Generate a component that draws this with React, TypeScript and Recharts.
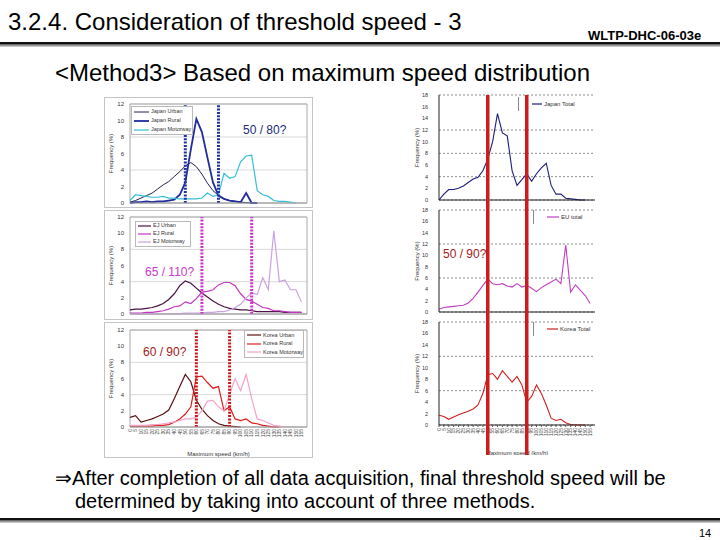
import React from 'react';
import { LineChart, Line, XAxis, YAxis, CartesianGrid, ReferenceLine, ReferenceArea, Legend } from 'recharts';

const FONT = "'Liberation Sans', Arial, sans-serif";

// Maximum speed bins (km/h)
const SPEEDS = [0, 5, 10, 15, 20, 25, 30, 35, 40, 45, 50, 55, 60, 65, 70, 75, 80, 85, 90, 95, 100, 105, 110, 115, 120, 125, 130, 135, 140, 145, 150, 155];
const LEFT_Y_TICKS = [0, 2, 4, 6, 8, 10, 12];
const RIGHT_Y_TICKS = [0, 2, 4, 6, 8, 10, 12, 14, 16, 18];

// Japan (%)
const JAPAN_URBAN = [0.1, 0.3, 0.6, 0.9, 1.2, 1.7, 2.2, 2.6, 3.2, 3.8, 4.5, 4.9, 4.4, 3.5, 2.4, 1.5, 0.9, 0.5, 0.3, 0.2, 0.1, 0.05, 0, null, null, null, null, null, null, null, null, null];
const JAPAN_RURAL = [0, 0.1, 0.1, 0.2, 0.1, 0.2, 0.2, 0.3, 0.4, 1.0, 2.5, 6.5, 10.2, 8.6, 5.5, 2.5, 0.9, 0.5, 0.3, 0.2, 0.1, 1.2, 0, 0, null, null, null, null, null, null, null, null];
const JAPAN_MOTORWAY = [0.3, 1.0, 0.9, 0.8, 0.7, 0.7, 0.8, 0.6, 0.6, 0.5, 0.5, 0.5, 0.5, 0.6, 1.2, 0.8, 1.0, 3.6, 3.0, 3.2, 5.0, 5.7, 5.8, 1.5, 1.0, 0.8, 0.3, 0.2, 0.2, 0.1, 0, null];

// EJ (%)
const EJ_URBAN = [0.5, 0.6, 0.6, 0.7, 0.8, 1.0, 1.3, 1.8, 2.5, 3.5, 4.1, 3.8, 3.2, 2.6, 2.1, 1.6, 1.2, 0.9, 0.7, 0.6, 0.5, 0.5, 0.4, 0.3, 0.3, 0.3, 0.3, 0.3, 0.2, 0.2, 0.2, 0.2];
const EJ_RURAL = [0.1, 0.1, 0.1, 0.2, 0.2, 0.3, 0.4, 0.6, 0.9, 1.0, 1.5, 1.3, 1.9, 2.7, 2.8, 3.0, 3.6, 3.9, 3.9, 3.5, 2.5, 1.8, 1.6, 1.2, 0.8, 0.7, 0.4, 0.4, 0.3, 0.2, 0.2, 0.2];
const EJ_MOTORWAY = [0, 0, 0, 0, 0, 0, 0, 0.05, 0.05, 0.05, 0.1, 0.1, 0.1, 0.15, 0.2, 0.2, 0.3, 0.3, 0.5, 0.8, 1.2, 2.0, 2.6, 2.4, 4.5, 3.0, 10.3, 4.0, 4.2, 3.0, 3.0, 1.5];

// Korea (%)
const KOREA_URBAN = [1.2, 1.4, 0.6, 0.8, 1.0, 1.3, 1.6, 2.1, 3.5, 5.0, 6.5, 5.6, 3.3, 2.2, 1.4, 0.8, 0.4, 0.2, 0.1, 0.05, 0, null, null, null, null, null, null, null, null, null, null, null];
const KOREA_RURAL = [0.1, 0.1, 0.1, 0.1, 0.1, 0.2, 0.2, 0.3, 0.6, 1.0, 1.6, 2.5, 6.2, 6.3, 5.5, 4.8, 5.0, 2.0, 2.5, 1.0, 0.8, 1.0, 0.5, 0.4, 0.2, 0.1, 0, 0, null, null, null, null];
const KOREA_MOTORWAY = [0.2, 0.2, 0.2, 0.2, 0.3, 0.3, 0.4, 0.5, 0.6, 0.8, 1.0, 1.0, 1.2, 2.0, 3.2, 3.3, 2.5, 2.0, 4.0, 6.0, 4.5, 6.5, 3.5, 1.0, 0.8, 0.5, 0.2, 0.1, 0, null, null, null];

// Totals (%)
const JAPAN_TOTAL = [0, 1.0, 1.8, 1.8, 2.0, 2.4, 3.0, 3.6, 3.9, 5.0, 7.0, 10.0, 14.8, 11.5, 11.0, 5.0, 2.5, 3.5, 4.5, 3.2, 4.5, 5.5, 6.3, 2.5, 1.0, 1.0, 0.3, 0.2, 0.1, 0, 0, null];
const EU_TOTAL = [0.5, 0.8, 0.9, 1.0, 1.1, 1.2, 1.6, 2.4, 3.5, 4.7, 5.8, 5.0, 4.8, 5.0, 4.6, 4.4, 5.0, 4.4, 4.7, 4.2, 3.6, 4.3, 4.8, 5.3, 5.8, 5.0, 11.8, 3.5, 4.8, 3.8, 2.9, 1.5];
const KOREA_TOTAL = [1.7, 1.5, 1.0, 1.4, 1.8, 2.1, 2.4, 2.8, 3.5, 5.5, 8.8, 9.0, 8.0, 9.5, 8.5, 7.5, 8.5, 7.0, 4.0, 5.0, 7.0, 5.5, 3.5, 1.2, 0.8, 1.0, 0.4, 0.1, 0, 0, 0, null];

// Threshold candidates (km/h)
const JAPAN_THRESHOLDS = [50, 80];
const EJ_THRESHOLDS = [65, 110];
const KOREA_THRESHOLDS = [60, 90];
const TOTAL_THRESHOLDS = [50, 90];

type Series = { key: string; name: string; values: (number | null)[]; color: string; width: number };

function rowsOf(series: Series[]) {
  return SPEEDS.map((s, i) => {
    const r: any = { speed: s };
    series.forEach((se) => {
      r[se.key] = se.values[i];
    });
    return r;
  });
}

const RotTick = (props: any) => {
  const { x, y, payload } = props;
  return (
    <text x={x} y={y} dy="0.35em" transform={`rotate(-90 ${x} ${y})`} textAnchor="end" fontSize={5} fill="#444" fontFamily={FONT}>
      {payload.value}
    </text>
  );
};

const boxLegend = (series: Series[], lineLen: number, rowH: number, fontSize: number) => () => (
  <div style={{ border: '1px solid #b8b8b8', background: '#fff', padding: '0 2px', fontFamily: FONT }}>
    {series.map((s) => (
      <div key={s.key} style={{ display: 'flex', alignItems: 'center', height: rowH }}>
        <svg width={lineLen} height={4} style={{ flex: 'none' }}>
          <line x1={0} y1={2} x2={lineLen} y2={2} stroke={s.color} strokeWidth={s.width} />
        </svg>
        <span style={{ fontSize, marginLeft: 2, color: '#333', whiteSpace: 'nowrap', lineHeight: 1 }}>{s.name}</span>
      </div>
    ))}
  </div>
);

const barLegend = (s: Series, lineLen: number, fontSize: number) => () => (
  <div style={{ borderLeft: '1px solid #888', paddingLeft: 13, height: 14, display: 'flex', alignItems: 'center', fontFamily: FONT }}>
    <svg width={lineLen} height={4} style={{ flex: 'none' }}>
      <line x1={0} y1={2} x2={lineLen} y2={2} stroke={s.color} strokeWidth={1.2} />
    </svg>
    <span style={{ fontSize, marginLeft: 2, color: '#333', whiteSpace: 'nowrap', lineHeight: 1 }}>{s.name}</span>
  </div>
);

type LeftProps = {
  top: number;
  height: number;
  plotTop: number;
  axisH: number;
  series: Series[];
  thresholds: number[];
  thColor: string;
  legendPos: { left: number; top: number; width: number };
  legendLine: number;
  legendRow: number;
  bottomAxis?: boolean;
};

function LeftPanel(p: LeftProps) {
  const data = rowsOf(p.series);
  return (
    <div style={{ position: 'absolute', left: 104, top: p.top, width: 207, height: p.height, border: '1px solid #c4c4c4', background: '#fff' }}>
      <LineChart width={207} height={p.height} data={data} margin={{ top: p.plotTop, right: 5, left: 0, bottom: 0 }}>
        <CartesianGrid vertical={false} stroke="#d9d9d9" />
        <XAxis
          dataKey="speed"
          type="number"
          domain={[0, 160]}
          ticks={SPEEDS}
          height={p.axisH}
          axisLine={{ stroke: '#a8a8a8' }}
          tickLine={false}
          tickSize={2}
          tickMargin={0}
          interval={0}
          tick={p.bottomAxis ? <RotTick /> : false}
          label={p.bottomAxis ? { value: 'Maximum speed (km/h)', position: 'insideBottom', offset: 1, fontSize: 6, fill: '#333', fontFamily: FONT } : undefined}
        />
        <YAxis
          domain={[0, 12]}
          ticks={LEFT_Y_TICKS}
          width={25}
          tick={{ fontSize: 6, fill: '#333', fontFamily: FONT }}
          tickLine={false}
          axisLine={false}
          tickSize={3}
          tickMargin={3}
          label={{ value: 'Frequency (%)', angle: -90, position: 'insideLeft', offset: 6, fontSize: 6, fill: '#333', fontFamily: FONT, style: { textAnchor: 'middle' } }}
        />
        <ReferenceArea x1={0} x2={160} y1={0} y2={12} fill="none" stroke="#a8a8a8" strokeWidth={1} />
        {p.series.map((s) => (
          <Line key={s.key} dataKey={s.key} name={s.name} stroke={s.color} strokeWidth={s.width} dot={false} type="linear" isAnimationActive={false} />
        ))}
        {p.thresholds.map((t) => (
          <ReferenceLine key={t} x={t} stroke={p.thColor} strokeWidth={3} strokeDasharray="2 1.3" />
        ))}
        <Legend
          layout="vertical"
          align="center"
          verticalAlign="middle"
          wrapperStyle={{ left: p.legendPos.left, top: p.legendPos.top, width: p.legendPos.width }}
          content={boxLegend(p.series, p.legendLine, p.legendRow, 5.5)}
        />
      </LineChart>
    </div>
  );
}

type RightProps = {
  top: number;
  height: number;
  plotTop: number;
  axisH: number;
  series: Series;
  legendPos: { left: number; top: number };
  legendLine: number;
  bottomAxis?: boolean;
};

function RightPanel(p: RightProps) {
  const data = rowsOf([p.series]);
  return (
    <div style={{ position: 'absolute', left: 410, top: p.top, width: 190, height: p.height }}>
      <LineChart width={190} height={p.height} data={data} margin={{ top: p.plotTop, right: 5, left: 0, bottom: 0 }}>
        <CartesianGrid vertical={false} stroke="#8c8c8c" strokeDasharray="2 2" />
        <XAxis
          dataKey="speed"
          type="number"
          domain={[0, 160]}
          ticks={SPEEDS}
          height={p.axisH}
          axisLine={{ stroke: '#222' }}
          tickLine={{ stroke: '#555' }}
          tickSize={2}
          tickMargin={1}
          interval={0}
          tick={p.bottomAxis ? <RotTick /> : false}
          label={p.bottomAxis ? { value: 'Maximum speed (km/h)', position: 'insideBottom', offset: 0, fontSize: 6, fill: '#333', fontFamily: FONT } : undefined}
        />
        <YAxis
          domain={[0, 18]}
          ticks={RIGHT_Y_TICKS}
          width={29}
          tick={{ fontSize: 5.5, fill: '#333', fontFamily: FONT }}
          tickLine={false}
          axisLine={{ stroke: '#222' }}
          tickSize={4}
          tickMargin={7}
          label={{ value: 'Frequency (%)', angle: -90, position: 'insideLeft', offset: 7, fontSize: 6, fill: '#333', fontFamily: FONT, style: { textAnchor: 'middle' } }}
        />
        <Line dataKey={p.series.key} name={p.series.name} stroke={p.series.color} strokeWidth={p.series.width} dot={false} type="linear" isAnimationActive={false} />
        <Legend
          layout="vertical"
          align="center"
          verticalAlign="middle"
          wrapperStyle={{ left: p.legendPos.left, top: p.legendPos.top }}
          content={barLegend(p.series, p.legendLine, 6)}
        />
      </LineChart>
    </div>
  );
}

const textStyle: React.CSSProperties = { position: 'absolute', fontFamily: FONT, whiteSpace: 'nowrap', lineHeight: 1, color: '#000' };

export default function App() {
  const overlayData = rowsOf([{ key: 'k', name: 'Korea Total', values: KOREA_TOTAL, color: '#000', width: 1 }]);
  return (
    <div style={{ position: 'absolute', left: 0, top: 0, width: 720, height: 540, background: '#fff', overflow: 'hidden', fontFamily: FONT }}>
      <div style={{ ...textStyle, left: 8, top: 10, fontSize: 24 }}>3.2.4. Consideration of threshold speed - 3</div>
      <div style={{ ...textStyle, left: 588, top: 29, fontSize: 13, fontWeight: 'bold' }}>WLTP-DHC-06-03e</div>
      <div style={{ position: 'absolute', left: 0, top: 42, width: 720, height: 2, background: '#111' }} />
      <div style={{ position: 'absolute', left: 0, top: 44, width: 720, height: 3, background: 'linear-gradient(#555, #ddd)' }} />
      <div style={{ ...textStyle, left: 55, top: 61, fontSize: 24 }}>&lt;Method3&gt; Based on maximum speed distribution</div>

      <LeftPanel
        top={97}
        height={109}
        plotTop={6}
        axisH={4}
        series={[
          { key: 'ju', name: 'Japan Urban', values: JAPAN_URBAN, color: '#23234f', width: 1 },
          { key: 'jr', name: 'Japan Rural', values: JAPAN_RURAL, color: '#1f2c9c', width: 1.8 },
          { key: 'jm', name: 'Japan Motorway', values: JAPAN_MOTORWAY, color: '#35bfd6', width: 1.2 },
        ]}
        thresholds={JAPAN_THRESHOLDS}
        thColor="#2233aa"
        legendPos={{ left: 26, top: 8, width: 62 }}
        legendLine={15}
        legendRow={9}
      />
      <LeftPanel
        top={210}
        height={108}
        plotTop={6}
        axisH={5}
        series={[
          { key: 'eu', name: 'EJ Urban', values: EJ_URBAN, color: '#4a1244', width: 1.2 },
          { key: 'er', name: 'EJ Rural', values: EJ_RURAL, color: '#c436c4', width: 1.2 },
          { key: 'em', name: 'EJ Motorway', values: EJ_MOTORWAY, color: '#c9a2e2', width: 1.2 },
        ]}
        thresholds={EJ_THRESHOLDS}
        thColor="#cc33cc"
        legendPos={{ left: 30, top: 10, width: 56 }}
        legendLine={13}
        legendRow={8}
      />
      <LeftPanel
        top={322}
        height={134}
        plotTop={7}
        axisH={30}
        series={[
          { key: 'ku', name: 'Korea Urban', values: KOREA_URBAN, color: '#5a1010', width: 1.2 },
          { key: 'kr', name: 'Korea Rural', values: KOREA_RURAL, color: '#dd1c1c', width: 1.2 },
          { key: 'km', name: 'Korea Motorway', values: KOREA_MOTORWAY, color: '#f2a2c8', width: 1.2 },
        ]}
        thresholds={KOREA_THRESHOLDS}
        thColor="#cc1a1a"
        legendPos={{ left: 139, top: 7, width: 60 }}
        legendLine={14}
        legendRow={8.5}
        bottomAxis
      />

      <RightPanel
        top={88}
        height={118}
        plotTop={7}
        axisH={6}
        series={{ key: 'jt', name: 'Japan Total', values: JAPAN_TOTAL, color: '#1c1c7c', width: 1.1 }}
        legendPos={{ left: 108, top: 9 }}
        legendLine={10}
      />
      <RightPanel
        top={206}
        height={112}
        plotTop={4}
        axisH={6}
        series={{ key: 'et', name: 'EU total', values: EU_TOTAL, color: '#c040c0', width: 1.1 }}
        legendPos={{ left: 123, top: 4 }}
        legendLine={12}
      />
      <RightPanel
        top={318}
        height={137}
        plotTop={4}
        axisH={30}
        series={{ key: 'kt', name: 'Korea Total', values: KOREA_TOTAL, color: '#d02020', width: 1.1 }}
        legendPos={{ left: 123, top: 4 }}
        legendLine={11}
        bottomAxis
      />

      <div style={{ position: 'absolute', left: 410, top: 88, width: 190, height: 367, pointerEvents: 'none' }}>
        <LineChart width={190} height={367} data={overlayData} margin={{ top: 7, right: 5, left: 29, bottom: 0 }}>
          <XAxis dataKey="speed" type="number" domain={[0, 160]} hide />
          <YAxis domain={[0, 18]} hide />
          <Line dataKey="k" stroke="none" strokeWidth={0} dot={false} activeDot={false} isAnimationActive={false} />
          {TOTAL_THRESHOLDS.map((t) => (
            <ReferenceLine key={t} x={t} stroke="#cc1c1c" strokeWidth={3.5} />
          ))}
        </LineChart>
      </div>

      <div style={{ ...textStyle, left: 243, top: 124, fontSize: 12, color: '#1c2a78' }}>50 / 80?</div>
      <div style={{ ...textStyle, left: 145, top: 266, fontSize: 12, color: '#c838c8' }}>65 / 110?</div>
      <div style={{ ...textStyle, left: 143, top: 346, fontSize: 12, color: '#a01818' }}>60 / 90?</div>
      <div style={{ ...textStyle, left: 443, top: 248, fontSize: 12, color: '#a52020' }}>50 / 90?</div>

      <div style={{ ...textStyle, left: 55, top: 468, fontSize: 20 }}>⇒After completion of all data acquisition, final threshold speed will be</div>
      <div style={{ ...textStyle, left: 75, top: 491, fontSize: 20 }}>determined by taking into account of three methods.</div>

      <div style={{ position: 'absolute', left: 0, top: 518, width: 720, height: 2, background: '#111' }} />
      <div style={{ position: 'absolute', left: 0, top: 520, width: 720, height: 3, background: 'linear-gradient(#555, #ddd)' }} />
      <div style={{ ...textStyle, left: 699, top: 528, fontSize: 11 }}>14</div>
    </div>
  );
}
